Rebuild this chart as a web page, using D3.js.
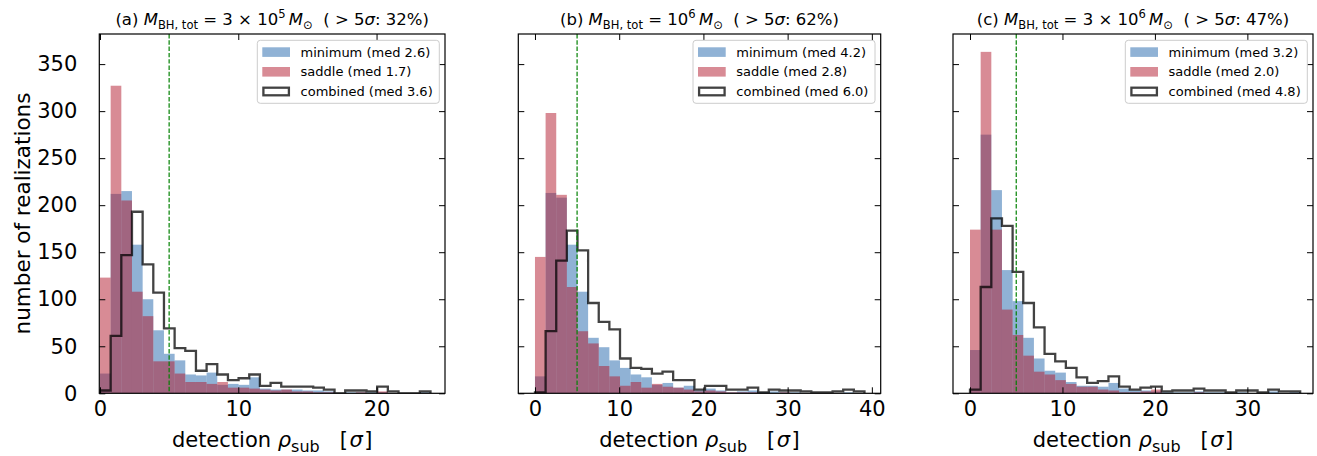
<!DOCTYPE html>
<html><head><meta charset="utf-8">
<script src="https://cdn.jsdelivr.net/npm/d3@7"></script>
<style>
body{margin:0;background:#fff}
text{font-family:"DejaVu Sans",sans-serif;fill:#000;white-space:pre}
</style>
</head><body>
<svg id="chart" width="1317" height="456"></svg>
<script>
// ---------------- data ----------------
const panelLetters = ["(a)", "(b)", "(c)"];
const massMantissa = ["3 \u00d7 10", "10", "3 \u00d7 10"];
const massExponent = ["5", "6", "6"];
const fractionAbove5 = ["32%", "62%", "47%"];
const seriesNames = ["minimum", "saddle", "combined"];
const mediansA = [2.6, 1.7, 3.6];
const mediansB = [4.2, 2.8, 6.0];
const mediansC = [3.2, 2.0, 4.8];
const binWidths = [0.771, 1.262, 1.152];   // sigma per bin, bins start at 0
const thresholdSigma = 5;

const minimumA  = [21, 212, 215, 158, 100, 67, 42, 35, 20, 19, 22, 9, 10, 9, 17, 5, 4, 4, 4, 3, 3, 2, 0, 1, 1, 1, 1, 0, 0, 0, 1];
const saddleA   = [123, 327, 205, 108, 82, 34, 34, 21, 12, 12, 10, 12, 6, 6, 5, 4, 3, 4, 2, 2, 1, 1, 0, 0, 1, 0, 2, 0, 0, 0, 0];
const combinedA = [3, 61, 147, 193, 137, 107, 69, 48, 45, 24, 31, 20, 14, 16, 20, 8, 11, 7, 7, 7, 6, 4, 0, 3, 3, 2, 7, 2, 0, 0, 2];

const minimumB  = [18, 213, 208, 158, 108, 59, 49, 35, 27, 20, 17, 9, 11, 6, 8, 3, 5, 3, 1, 2, 3, 1, 2, 1, 1, 0, 0, 0, 0, 1, 0];
const saddleB   = [145, 298, 211, 113, 66, 53, 29, 18, 8, 12, 6, 10, 7, 6, 4, 2, 3, 2, 1, 1, 1, 0, 0, 1, 0, 0, 0, 0, 0, 0, 0];
const combinedB = [1, 66, 141, 173, 152, 96, 76, 68, 37, 27, 26, 21, 23, 14, 14, 4, 8, 8, 4, 4, 6, 1, 4, 3, 3, 2, 1, 1, 2, 4, 2];

const minimumC  = [46, 275, 216, 131, 98, 59, 37, 24, 22, 12, 8, 8, 7, 11, 5, 3, 3, 2, 1, 1, 1, 2, 1, 1, 0, 1, 0, 0, 2, 0, 1];
const saddleC   = [174, 363, 174, 89, 62, 40, 23, 20, 14, 10, 7, 7, 4, 3, 1, 1, 2, 4, 0, 0, 0, 1, 0, 0, 0, 0, 0, 0, 0, 0, 0];
const combinedC = [4, 113, 186, 178, 129, 96, 70, 42, 34, 27, 17, 11, 13, 18, 7, 4, 6, 7, 2, 3, 3, 5, 3, 3, 1, 3, 3, 1, 4, 2, 2];

const xTicksA = [0, 10, 20];
const xTicksB = [0, 10, 20, 30, 40];
const xTicksC = [0, 10, 20, 30];
const yTicks = [0, 50, 100, 150, 200, 250, 300, 350];
const xLimits = [[-0.05, 24.95], [-1.98, 41.05], [-1.84, 37.1]];
const yLimit = [0, 382];

// ---------------- layout ----------------
const boxes = [{l: 99.3, r: 445}, {l: 518.3, r: 880.7}, {l: 953, r: 1313}];
const axTop = 34, axBottom = 393.3;
const colMin = "#2166ac", colSad = "#b2182b";
const FS = 21;
const svg = d3.select("#chart");

const panels = [
  {mins: minimumA, sads: saddleA, combs: combinedA, ticks: xTicksA, meds: mediansA},
  {mins: minimumB, sads: saddleB, combs: combinedB, ticks: xTicksB, meds: mediansB},
  {mins: minimumC, sads: saddleC, combs: combinedC, ticks: xTicksC, meds: mediansC}
];

function rich(sel, parts, fs, subScale) {
  let shift = 0;
  parts.forEach(p => {
    const ts = sel.append("tspan").text(p.t);
    let target = 0, size = p.size || fs;
    if (p.sub) { target = 0.24 * fs; size = fs * (subScale || 0.7); }
    if (p.sup) { target = -0.42 * fs; size = fs * 0.7; }
    ts.attr("font-size", size);
    if (target !== shift) { ts.attr("dy", target - shift); shift = target; }
    if (p.dx) ts.attr("dx", p.dx);
    if (p.it) ts.attr("font-style", "italic");
  });
}

const y = d3.scaleLinear().domain(yLimit).range([axBottom, axTop]);

panels.forEach((p, pi) => {
  const b = boxes[pi];
  const w = binWidths[pi];
  const x = d3.scaleLinear().domain(xLimits[pi]).range([b.l, b.r]);
  const g = svg.append("g");
  const clipId = "clip" + pi;
  svg.append("clipPath").attr("id", clipId).append("rect")
    .attr("x", b.l).attr("y", axTop).attr("width", b.r - b.l).attr("height", axBottom - axTop);
  const plot = g.append("g").attr("clip-path", `url(#${clipId})`);

  const drawBars = (vals, col) => {
    plot.append("g").selectAll("rect").data(vals).join("rect")
      .attr("x", (d, i) => x(i * w))
      .attr("width", (d, i) => x((i + 1) * w) - x(i * w))
      .attr("y", d => y(d))
      .attr("height", d => y(0) - y(d))
      .attr("fill", col).attr("fill-opacity", 0.5);
  };
  drawBars(p.mins, colMin);
  drawBars(p.sads, colSad);

  // step outline
  const pts = [[x(0), y(0)]];
  p.combs.forEach((v, i) => { pts.push([x(i * w), y(v)]); pts.push([x((i + 1) * w), y(v)]); });
  pts.push([x(p.combs.length * w), y(0)]);
  plot.append("path").attr("d", d3.line()(pts))
    .attr("fill", "none").attr("stroke", "#000").attr("stroke-opacity", 0.74)
    .attr("stroke-width", 2.3).attr("stroke-linejoin", "miter");

  // threshold line
  plot.append("line").attr("x1", x(thresholdSigma)).attr("x2", x(thresholdSigma))
    .attr("y1", axTop).attr("y2", axBottom)
    .attr("stroke", "#008000").attr("stroke-width", 1.2).attr("stroke-dasharray", "4.4,1.9");

  // axes (ticks inward, all sides)
  const tl = 6;
  const axB = d3.axisBottom(x).tickValues(p.ticks).tickSize(-tl).tickPadding(8).tickFormat(d3.format("d"));
  const axT = d3.axisTop(x).tickValues(p.ticks).tickSize(-tl).tickFormat("");
  const axL = d3.axisLeft(y).tickValues(yTicks).tickSize(-tl).tickPadding(22).tickFormat(pi === 0 ? d3.format("d") : "");
  const axR = d3.axisRight(y).tickValues(yTicks).tickSize(-tl).tickFormat("");
  const gB = g.append("g").attr("transform", `translate(0,${axBottom})`).call(axB);
  const gT = g.append("g").attr("transform", `translate(0,${axTop})`).call(axT);
  const gL = g.append("g").attr("transform", `translate(${b.l},0)`).call(axL);
  const gR = g.append("g").attr("transform", `translate(${b.r},0)`).call(axR);
  [gB, gT, gL, gR].forEach(a => {
    a.select(".domain").remove();
    a.selectAll(".tick line").attr("stroke", "#000").attr("stroke-width", 1);
    a.selectAll(".tick text").attr("font-size", FS).attr("font-family", "DejaVu Sans").attr("fill", "#000");
  });
  g.append("rect").attr("x", b.l).attr("y", axTop).attr("width", b.r - b.l).attr("height", axBottom - axTop)
    .attr("fill", "none").attr("stroke", "#000").attr("stroke-width", 1.2);

  // x label
  const cx = (b.l + b.r) / 2;
  const xl = g.append("text").attr("x", cx).attr("y", 447).attr("text-anchor", "middle").attr("font-size", FS);
  rich(xl, [{t: "detection "}, {t: "\u03c1", it: true}, {t: "sub", sub: true},
            {t: "\u00a0\u00a0\u00a0["}, {t: "\u03c3", it: true, dx: 1.5}, {t: "]", dx: 1.5}], FS, 0.76);

  // title
  const tt = g.append("text").attr("x", cx).attr("y", 25).attr("text-anchor", "middle").attr("font-size", 16.5);
  const parts = [{t: panelLetters[pi] + " "}, {t: "M", it: true}, {t: "BH, tot", sub: true},
    {t: " = " + massMantissa[pi]}, {t: massExponent[pi], sup: true}, {t: "\u2009"},
    {t: "M", it: true}, {t: "\u2299", sub: true}, {t: "\u00a0\u00a0( > 5"}, {t: "\u03c3", it: true},
    {t: ": " + fractionAbove5[pi] + ")"}];
  rich(tt, parts, 16.5);

  // legend
  const lw = 182, lh = 63;
  const lx = b.r - 5.7 - lw, ly = axTop + 6.3;
  const lg = g.append("g");
  lg.append("rect").attr("x", lx).attr("y", ly).attr("width", lw).attr("height", lh).attr("rx", 3)
    .attr("fill", "#fff").attr("fill-opacity", 0.8).attr("stroke", "#cccccc").attr("stroke-width", 1);
  const rowsY = [ly + 11.8, ly + 31.5, ly + 51.2];
  seriesNames.forEach((nm, k) => {
    const ry = rowsY[k];
    if (k < 2) {
      lg.append("rect").attr("x", lx + 5).attr("y", ry - 4.8).attr("width", 27.7).attr("height", 9.6)
        .attr("fill", k === 0 ? colMin : colSad).attr("fill-opacity", 0.5);
    } else {
      lg.append("rect").attr("x", lx + 6.1).attr("y", ry - 3.8).attr("width", 25.5).attr("height", 7.6)
        .attr("fill", "none").attr("stroke", "#000").attr("stroke-opacity", 0.74).attr("stroke-width", 2.3);
    }
    lg.append("text").attr("x", lx + 43.3).attr("y", ry + 4.6).attr("font-size", 13)
      .text(`${nm} (med ${p.meds[k].toFixed(1)})`);
  });
});

// y label
svg.append("text").attr("transform", "translate(22,213.5) rotate(-90)").attr("dy", "0.35em")
  .attr("text-anchor", "middle").attr("font-size", 21.5).text("number of realizations");
</script>
</body></html>
